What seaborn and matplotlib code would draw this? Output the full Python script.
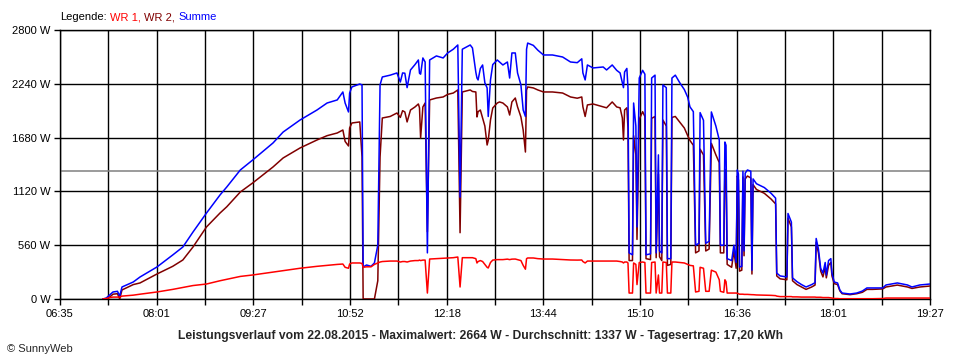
import matplotlib
matplotlib.use('Agg')
import matplotlib.pyplot as plt
import numpy as np
import pandas as pd
import seaborn as sns

# Messwerte vom 22.08.2015 (Zeit, Leistung in W)
zeit = ['07:13', '07:16', '07:19', '07:22', '07:26', '07:28', '07:30', '07:40', '07:46', '08:01',
        '08:15', '08:24', '08:33', '08:45', '08:57', '09:03', '09:15', '09:26', '09:44', '09:53',
        '10:08', '10:23', '10:32', '10:41', '10:46', '10:48', '10:51', '10:52', '10:54', '11:01',
        '11:03', '11:04', '11:07', '11:11', '11:14', '11:17', '11:19', '11:21', '11:28', '11:34',
        '11:37', '11:39', '11:41', '11:43', '11:46', '11:50', '11:53', '11:54', '11:55', '11:57',
        '11:59', '12:01', '12:03', '12:09', '12:15', '12:19', '12:24', '12:28', '12:30', '12:32',
        '12:39', '12:41', '12:44', '12:45', '12:46', '12:48', '12:50', '12:52', '12:54', '12:55',
        '12:57', '12:59', '13:03', '13:05', '13:08', '13:12', '13:14', '13:16', '13:19', '13:21',
        '13:24', '13:26', '13:28', '13:29', '13:30', '13:35', '13:39', '13:44', '13:52', '14:01',
        '14:08', '14:14', '14:18', '14:19', '14:21', '14:23', '14:28', '14:37', '14:40', '14:45',
        '14:49', '14:52', '14:54', '14:55', '14:56', '14:58', '14:59', '15:00', '15:03', '15:04',
        '15:06', '15:07', '15:09', '15:12', '15:14', '15:15', '15:19', '15:20', '15:23', '15:24',
        '15:26', '15:27', '15:29', '15:30', '15:33', '15:34', '15:37', '15:38', '15:41', '15:45',
        '15:49', '15:52', '15:54', '15:57', '15:59', '16:02', '16:03', '16:06', '16:08', '16:11',
        '16:13', '16:17', '16:20', '16:21', '16:24', '16:25', '16:26', '16:27', '16:31', '16:33',
        '16:35', '16:36', '16:37', '16:38', '16:40', '16:41', '16:42', '16:43', '16:45', '16:48',
        '16:49', '16:50', '16:53', '17:00', '17:06', '17:10', '17:11', '17:14', '17:20', '17:21',
        '17:23', '17:24', '17:25', '17:29', '17:33', '17:37', '17:42', '17:45', '17:46', '17:48',
        '17:50', '17:52', '17:54', '17:55', '17:57', '17:59', '18:00', '18:02', '18:05', '18:07',
        '18:09', '18:16', '18:22', '18:27', '18:31', '18:36', '18:45', '18:48', '18:58', '19:07',
        '19:11', '19:18', '19:27']

summe = [0, 10, 42, 73, 80, 30, 125, 177, 229, 333,
         458, 541, 697, 895, 1083, 1166, 1343, 1447, 1624, 1738,
         1863, 1967, 2040, 2072, 2155, 2040, 1947, 2144, 2207, 2238,
         2228, 333, 354, 340, 375, 560, 2228, 2311, 2330, 2353,
         2259, 2353, 2350, 2200, 2384, 2440, 2488, 2350, 2340, 2509,
         2467, 480, 2488, 2530, 2509, 2561, 2600, 2644, 1060, 2600,
         2644, 2613, 2360, 2300, 2280, 2400, 2436, 2250, 2197, 1900,
         2280, 2440, 2488, 2467, 2436, 2467, 2300, 2561, 2561, 2353,
         2228, 1967, 1900, 2600, 2664, 2640, 2590, 2540, 2540, 2519,
         2467, 2460, 2500, 2353, 2280, 2436, 2405, 2415, 2384, 2436,
         2380, 2353, 2249, 2200, 2363, 2400, 2197, 480, 460, 2040,
         1800, 750, 2300, 2380, 2340, 460, 470, 2300, 2330, 480,
         1500, 500, 480, 2228, 2200, 420, 420, 2300, 2330, 2250,
         2180, 2100, 2000, 1950, 560, 580, 1940, 1860, 580, 600,
         1947, 1800, 1655, 560, 560, 1634, 1600, 420, 400, 560,
         380, 1343, 1300, 333, 340, 1330, 500, 1310, 1343, 1330,
         300, 1250, 1200, 1160, 1100, 1050, 270, 240, 230, 890,
         830, 800, 220, 180, 150, 125, 150, 170, 630, 520,
         320, 270, 380, 250, 400, 420, 270, 177, 167, 94,
         62, 52, 62, 83, 115, 115, 115, 146, 167, 146,
         125, 146, 156]

wr2 = [0, 0, 20, 50, 55, 0, 94, 150, 167, 260,
       340, 406, 541, 750, 895, 960, 1114, 1208, 1374, 1468,
       1572, 1655, 1700, 1728, 1759, 1640, 1593, 1780, 1832, 1843,
       1478, 0, 0, 0, 0, 190, 1478, 1884, 1900, 1936,
       1890, 1960, 1947, 1843, 1967, 1999, 2030, 1990, 1676, 1999,
       2040, 700, 2072, 2092, 2103, 2130, 2144, 2176, 690, 2155,
       2176, 2160, 2155, 1895, 1950, 1967, 1884, 1800, 1603, 1650,
       1863, 1988, 2040, 2051, 2040, 1999, 1915, 2051, 2092, 2000,
       1895, 1759, 1530, 2176, 2207, 2197, 2176, 2155, 2155, 2144,
       2103, 2090, 2103, 2000, 1900, 2020, 2030, 2000, 1990, 2051,
       1999, 1990, 1884, 1655, 1967, 1990, 1780, 400, 400, 1700,
       1500, 620, 1870, 1950, 1900, 420, 410, 1880, 1900, 430,
       1300, 440, 400, 1863, 1800, 350, 360, 1890, 1900, 1840,
       1780, 1700, 1650, 1600, 480, 500, 1560, 1500, 500, 520,
       1620, 1500, 1420, 480, 480, 1350, 1300, 360, 330, 500,
       320, 1280, 1240, 290, 300, 1270, 450, 1250, 1280, 1260,
       260, 1190, 1140, 1100, 1040, 990, 240, 210, 200, 840,
       780, 750, 190, 150, 125, 100, 125, 145, 590, 480,
       290, 230, 330, 220, 350, 380, 240, 160, 150, 85,
       55, 45, 55, 70, 100, 100, 105, 125, 145, 125,
       110, 125, 135]

wr1 = [0, 5, 15, 20, 20, 20, 30, 40, 50, 73,
       100, 120, 140, 156, 190, 205, 235, 250, 280, 295,
       320, 340, 350, 360, 364, 330, 320, 364, 375, 375,
       370, 330, 335, 335, 360, 375, 385, 390, 395, 395,
       385, 390, 390, 385, 395, 400, 400, 405, 400, 405,
       405, 62, 416, 420, 425, 427, 430, 437, 125, 430,
       430, 430, 420, 375, 390, 400, 390, 360, 330, 323,
       380, 405, 410, 410, 410, 415, 410, 415, 416, 410,
       400, 350, 310, 420, 427, 427, 420, 416, 416, 410,
       406, 405, 406, 390, 375, 395, 395, 395, 395, 395,
       395, 390, 385, 375, 385, 385, 375, 62, 62, 375,
       360, 150, 380, 385, 380, 62, 62, 380, 385, 62,
       250, 62, 62, 385, 380, 62, 62, 385, 385, 380,
       375, 360, 350, 345, 73, 80, 330, 320, 80, 80,
       300, 280, 200, 80, 70, 200, 180, 62, 62, 62,
       62, 60, 55, 50, 50, 50, 48, 48, 48, 45,
       45, 45, 42, 40, 38, 35, 30, 25, 25, 25,
       25, 25, 22, 22, 20, 20, 20, 20, 18, 18,
       18, 15, 15, 15, 15, 12, 10, 5, 5, 3,
       3, 3, 3, 3, 3, 3, 5, 10, 10, 10,
       10, 10, 10]

x_labels = ['06:35', '08:01', '09:27', '10:52', '12:18', '13:44', '15:10', '16:36', '18:01', '19:27']
y_ticks = [0, 560, 1120, 1680, 2240, 2800]
durchschnitt = 1337
titel = ('Leistungsverlauf vom 22.08.2015 - Maximalwert: 2664 W - '
         'Durchschnitt: 1337 W - Tagesertrag: 17,20 kWh')
legende = [('Legende:', 'black'), ('WR 1,', '#ff0000'), ('WR 2,', '#800000'), ('Summe', '#0000ff')]


def to_min(s):
    h, m = s.split(':')
    return int(h) * 60 + int(m)


df = pd.DataFrame({'zeit': [to_min(z) for z in zeit], 'WR 1': wr1, 'WR 2': wr2, 'Summe': summe})

sns.set_theme(style='white')
plt.rcParams['font.family'] = ['Liberation Sans', 'DejaVu Sans']

fig = plt.figure(figsize=(9.6, 3.6), dpi=100)
ax = fig.add_axes([60 / 960, 61 / 360, 870 / 960, 269 / 360])

sns.lineplot(data=df, x='zeit', y='WR 2', color='#800000', lw=1.1, ax=ax, zorder=3)
sns.lineplot(data=df, x='zeit', y='Summe', color='#0000ff', lw=1.1, ax=ax, zorder=4)
sns.lineplot(data=df, x='zeit', y='WR 1', color='#ff0000', lw=1.1, ax=ax, zorder=5)
ax.axhline(durchschnitt, color='#808080', lw=1.1, zorder=1)

t0, t1 = to_min(x_labels[0]), to_min(x_labels[-1])
xt = np.linspace(t0, t1, 2 * len(x_labels) - 1)
ax.set_xticks(xt)
ax.set_xticklabels([x_labels[i // 2] if i % 2 == 0 else '' for i in range(len(xt))])
ax.set_xlim(t0, t1)
ax.set_yticks(y_ticks)
ax.set_yticklabels([f'{v} W' for v in y_ticks])
ax.set_ylim(0, 2800)
ax.set_xlabel('')
ax.set_ylabel('')
ax.grid(True, color='black', lw=1)
ax.set_axisbelow(True)
ax.tick_params(direction='out', length=4, width=1, color='black', labelsize=8, pad=3,
               bottom=True, left=True, labelcolor='black')
for s in ax.spines.values():
    s.set_color('black')
    s.set_linewidth(1)

# Legende als farbiger Text
r = fig.canvas.get_renderer()
x = 60 / 960
for txt, col in legende:
    t = fig.text(x, 1 - 17 / 360, txt, color=col, fontsize=8, va='center', ha='left')
    x += (t.get_window_extent(renderer=r).width + 3.5) / fig.bbox.width

fig.text(0.5, 24 / 360, titel, fontsize=8.7, fontweight='bold', ha='center', va='center')
fig.text(7 / 960, 10.5 / 360, '\u00a9 SunnyWeb', fontsize=8, ha='left', va='center')

fig.savefig('out.png', dpi=100)
